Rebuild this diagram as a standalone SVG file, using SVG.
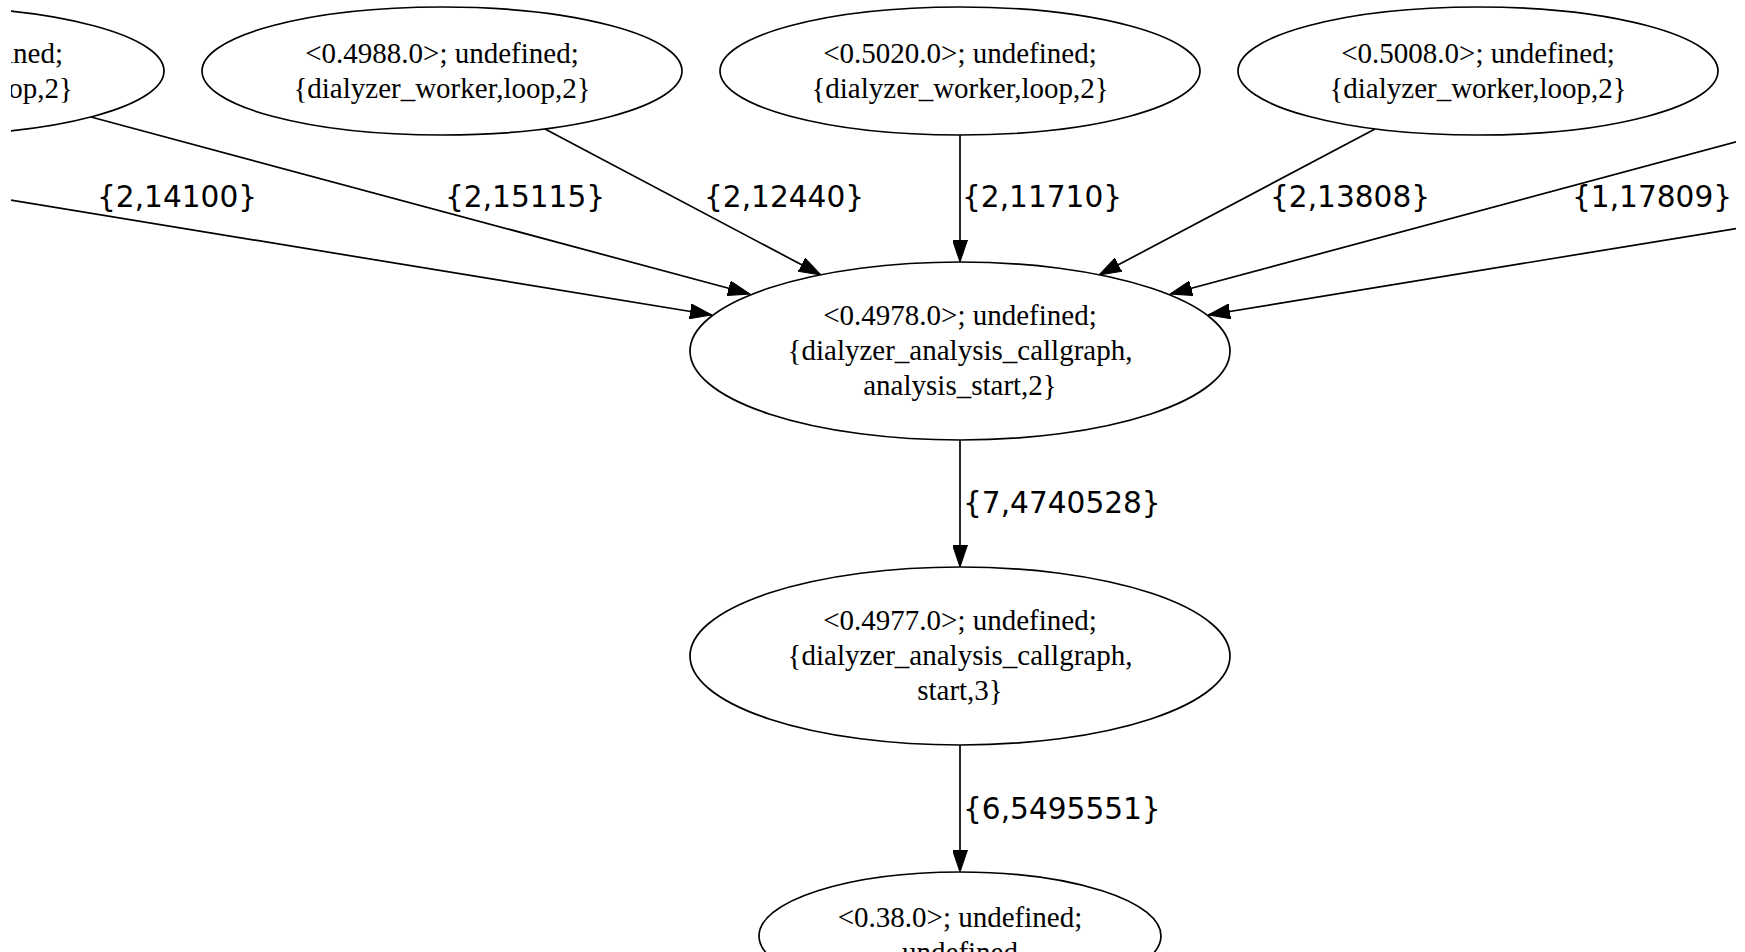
<svg xmlns="http://www.w3.org/2000/svg" width="1745" height="952" viewBox="0 0 1745 952">
<defs>
<style>
.node ellipse{fill:#fff;stroke:#000;stroke-width:1.7}
.nt{font-family:"Liberation Serif","Times New Roman",serif;font-size:29px;fill:#000;text-anchor:middle}
.edge path{fill:none;stroke:#000;stroke-width:1.7}
.el{font-family:"DejaVu Sans",Verdana,sans-serif;font-size:29.6px;fill:#000}
</style>
<marker id="arr" markerUnits="userSpaceOnUse" viewBox="0 0 22 15" markerWidth="22" markerHeight="15" refX="22" refY="7.5" orient="auto">
<path d="M0,0 L22,7.5 L0,15 z" fill="#000" stroke="#000" stroke-width="1"/>
</marker>
<clipPath id="clip"><rect x="11" y="0" width="1725" height="952"/></clipPath>
</defs>
<rect width="1745" height="952" fill="#fff"/>
<g id="connectors" class="edge" clip-path="url(#clip)">
<path d="M-100,182 L712,315" marker-end="url(#arr)"/>
<path d="M91,117 L750,294" marker-end="url(#arr)"/>
<path d="M545,129 L821,275" marker-end="url(#arr)"/>
<path d="M960,135 L960,262" marker-end="url(#arr)"/>
<path d="M1375,129 L1099,275" marker-end="url(#arr)"/>
<path d="M1829,117 L1170,294" marker-end="url(#arr)"/>
<path d="M2020,182 L1208,315" marker-end="url(#arr)"/>
<path d="M960,440 L960,567" marker-end="url(#arr)"/>
<path d="M960,745 L960,872" marker-end="url(#arr)"/>
</g>
<g id="edge-labels">
<text class="el" x="97" y="207">{2,14100}</text>
<text class="el" x="445" y="207">{2,15115}</text>
<text class="el" x="704" y="207">{2,12440}</text>
<text class="el" x="962" y="207">{2,11710}</text>
<text class="el" x="1270" y="207">{2,13808}</text>
<text class="el" x="1572" y="207">{1,17809}</text>
<text class="el" x="963" y="513">{7,4740528}</text>
<text class="el" x="963" y="819">{6,5495551}</text>
</g>
<g id="node-left" class="node" clip-path="url(#clip)">
<ellipse cx="-76" cy="71" rx="240" ry="64"/>
<text class="nt" x="63" y="63" style="text-anchor:end">ined;</text>
<text class="nt" x="73" y="98" style="text-anchor:end">op,2}</text>
</g>
<g id="node-4988" class="node">
<ellipse cx="442" cy="71" rx="240" ry="64"/>
<text class="nt" x="442" y="63">&lt;0.4988.0&gt;; undefined;</text>
<text class="nt" x="442" y="98">{dialyzer_worker,loop,2}</text>
</g>
<g id="node-5020" class="node">
<ellipse cx="960" cy="71" rx="240" ry="64"/>
<text class="nt" x="960" y="63">&lt;0.5020.0&gt;; undefined;</text>
<text class="nt" x="960" y="98">{dialyzer_worker,loop,2}</text>
</g>
<g id="node-5008" class="node">
<ellipse cx="1478" cy="71" rx="240" ry="64"/>
<text class="nt" x="1478" y="63">&lt;0.5008.0&gt;; undefined;</text>
<text class="nt" x="1478" y="98">{dialyzer_worker,loop,2}</text>
</g>
<g id="node-4978" class="node">
<ellipse cx="960" cy="351" rx="270" ry="89"/>
<text class="nt" x="960" y="325">&lt;0.4978.0&gt;; undefined;</text>
<text class="nt" x="960" y="360">{dialyzer_analysis_callgraph,</text>
<text class="nt" x="960" y="395">analysis_start,2}</text>
</g>
<g id="node-4977" class="node">
<ellipse cx="960" cy="656" rx="270" ry="89"/>
<text class="nt" x="960" y="630">&lt;0.4977.0&gt;; undefined;</text>
<text class="nt" x="960" y="665">{dialyzer_analysis_callgraph,</text>
<text class="nt" x="960" y="700">start,3}</text>
</g>
<g id="node-38" class="node">
<ellipse cx="960" cy="936" rx="201" ry="64"/>
<text class="nt" x="960" y="927">&lt;0.38.0&gt;; undefined;</text>
<text class="nt" x="960" y="962">undefined</text>
</g>
</svg>
